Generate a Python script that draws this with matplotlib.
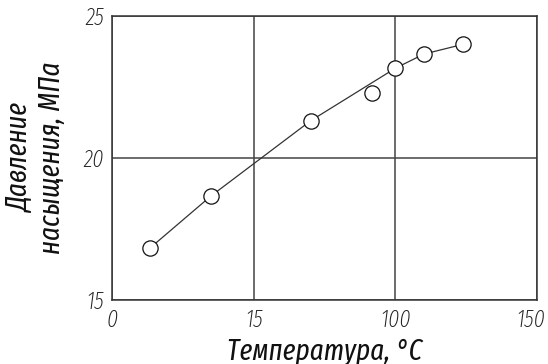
import matplotlib
matplotlib.use("Agg")
import matplotlib.pyplot as plt
import matplotlib.transforms as mtransforms

# Saturation pressure vs temperature
temperature = [13.3, 34.9, 70.1, 91.8, 100.0, 110.1, 123.8]
pressure = [16.82, 18.66, 21.31, 22.30, 23.16, 23.66, 24.00]
# the trend line skips the outlier at ~92 °C
trend_idx = [0, 1, 2, 4, 5, 6]

x_ticks = [0, 50, 100, 150]
x_tick_labels = ["0", "15", "100", "150"]
y_ticks = [15, 20, 25]
y_tick_labels = ["15", "20", "25"]

plt.rcParams["font.family"] = ["Fira Sans Extra Condensed", "DejaVu Sans"]
plt.rcParams["font.style"] = "italic"
plt.rcParams["font.weight"] = 275

fig = plt.figure(figsize=(5.48, 3.64), dpi=100)
ax = fig.add_axes([112 / 548, 1 - 300 / 364, (537 - 112) / 548, (300 - 16) / 364])

ax.plot([temperature[i] for i in trend_idx], [pressure[i] for i in trend_idx],
        color="#333333", lw=0.9, zorder=2)
ax.plot(temperature, pressure, ls="none", marker="o", ms=11,
        mfc="white", mec="#111111", mew=0.9, zorder=3)

ax.set_xlim(0, 150)
ax.set_ylim(15, 25)
ax.set_xticks(x_ticks)
ax.set_xticklabels(x_tick_labels)
ax.set_yticks(y_ticks)
ax.set_yticklabels(y_tick_labels)
ax.tick_params(length=0, labelsize=17, colors="#222222", pad=6)
ax.grid(True, color="#444444", lw=1.1)
for s in ax.spines.values():
    s.set_color("#333333")
    s.set_linewidth(1.1)

# keep the last x tick label inside the figure edge
last = ax.get_xticklabels()[-1]
last.set_transform(last.get_transform() +
                   mtransforms.ScaledTranslation(-6 / 100, 0, fig.dpi_scale_trans))

ax.set_xlabel("Температура, °C", fontsize=21, color="#111111", labelpad=4)
ax.set_ylabel("Давление\nнасыщения, МПа", fontsize=21, color="#111111",
              labelpad=12, linespacing=1.15)

fig.savefig("out.png", dpi=100)
